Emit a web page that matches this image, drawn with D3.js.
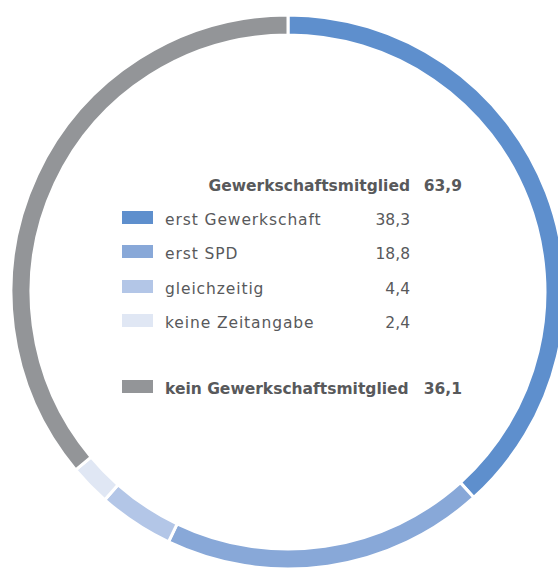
<!doctype html>
<html>
  <head>
    <meta charset="utf-8">
    <title>Gewerkschaftsmitglied</title>
    <script src="https://cdnjs.cloudflare.com/ajax/libs/d3/7.8.5/d3.min.js"></script>
    <style>
      body { margin: 0; background: #fff; }
      text { font-family: "DejaVu Sans", sans-serif; fill: #58595b; font-size: 15.5px; }
      .b { font-weight: bold; }
      .lbl { letter-spacing: 0.9px; }
    </style>
  </head>
  <body>
    <div id="chart"></div>
    <script>
      // data
      const categories = ['erst Gewerkschaft', 'erst SPD', 'gleichzeitig', 'keine Zeitangabe', 'kein Gewerkschaftsmitglied'];
      const values = [38.3, 18.8, 4.4, 2.4, 36.1];
      const colors = ['#5e8fcd', '#88a8d8', '#b3c6e7', '#e0e7f4', '#939598'];
      const totalLabel = 'Gewerkschaftsmitglied';
      const totalValue = '63,9';

      const width = 558, height = 568;
      const cx = 288, cy = 292;
      const fmt = v => d3.format('.1f')(v).replace('.', ',');

      const svg = d3.select('#chart').append('svg')
        .attr('width', width)
        .attr('height', height);

      const pie = d3.pie().sort(null).value(d => d.value);
      const arc = d3.arc().innerRadius(257).outerRadius(277);

      const data = categories.map((c, i) => ({ name: c, value: values[i], color: colors[i] }));

      svg.append('g')
        .attr('transform', `translate(${cx},${cy})`)
        .selectAll('path')
        .data(pie(data))
        .join('path')
        .attr('d', arc)
        .attr('fill', d => d.data.color)
        .attr('stroke', '#fff')
        .attr('stroke-width', 3);

      // legend
      const legend = svg.append('g');

      legend.append('text')
        .attr('class', 'b')
        .attr('x', 410).attr('y', 191)
        .attr('text-anchor', 'end')
        .text(totalLabel);
      legend.append('text')
        .attr('class', 'b')
        .attr('x', 462).attr('y', 191)
        .attr('text-anchor', 'end')
        .text(totalValue);

      const rowY = [225, 259, 294, 328, 394];
      const rows = legend.selectAll('g.row')
        .data(data)
        .join('g')
        .attr('class', 'row')
        .attr('transform', (d, i) => `translate(0,${rowY[i]})`);

      rows.append('rect')
        .attr('x', 122).attr('y', -14)
        .attr('width', 31).attr('height', 13)
        .attr('fill', d => d.color);

      rows.append('text')
        .attr('class', (d, i) => i === 4 ? 'b' : 'lbl')
        .attr('x', 165).attr('y', 0)
        .text(d => d.name);

      rows.append('text')
        .attr('class', (d, i) => i === 4 ? 'b' : null)
        .attr('x', (d, i) => i === 4 ? 462 : 410).attr('y', 0)
        .attr('text-anchor', 'end')
        .text(d => fmt(d.value));
    </script>
  </body>
</html>
